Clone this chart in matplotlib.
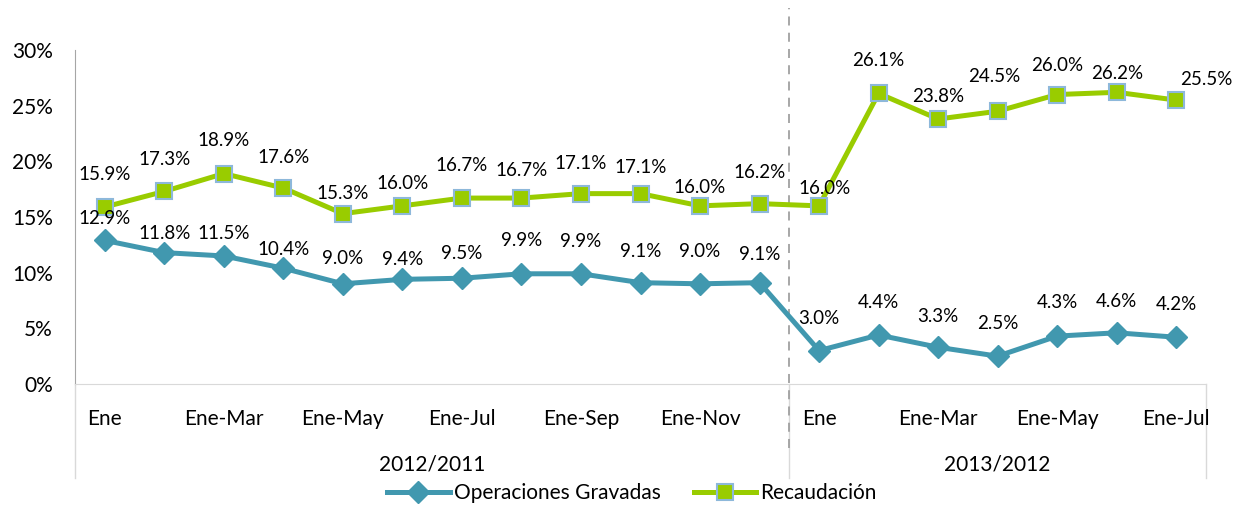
import matplotlib
matplotlib.use("Agg")
import matplotlib.pyplot as plt
from matplotlib.lines import Line2D
from matplotlib.transforms import blended_transform_factory

plt.rcParams["font.family"] = ["Lato", "DejaVu Sans"]

# ---- data -----------------------------------------------------------------
tick_labels = ["Ene", "", "Ene-Mar", "", "Ene-May", "", "Ene-Jul", "",
               "Ene-Sep", "", "Ene-Nov", "",
               "Ene", "", "Ene-Mar", "", "Ene-May", "", "Ene-Jul"]
groups = ["2012/2011", "2013/2012"]
group_sizes = [12, 7]

operaciones = [12.9, 11.8, 11.5, 10.4, 9.0, 9.4, 9.5, 9.9, 9.9, 9.1, 9.0, 9.1,
               3.0, 4.4, 3.3, 2.5, 4.3, 4.6, 4.2]
recaudacion = [15.9, 17.3, 18.9, 17.6, 15.3, 16.0, 16.7, 16.7, 17.1, 17.1,
               16.0, 16.2, 16.0, 26.1, 23.8, 24.5, 26.0, 26.2, 25.5]

# label lift above each point, pixels (as placed in the source chart)
ops_lift = [22, 19, 22, 19, 25, 20, 25, 33, 32, 31, 32, 28,
            32, 33, 31, 33, 34, 31, 33]
rec_lift = [32, 32, 33, 31, 20, 22, 33, 28, 30, 26, 18, 31,
            17, 33, 23, 35, 29, 19, 21]
rec_shift = [0] * 12 + [5, 0, 0, -3, 0, 0, 30]

BLUE = "#4198AF"
GREEN = "#99CC00"
EDGE = "#8DB8DA"
W, H = 1234, 508
FS_LAB = 13.5
FS_AX = 15

fig = plt.figure(figsize=(W / 100, H / 100), dpi=100)
ax = fig.add_axes([75 / W, 1 - 384 / H, (1206 - 75) / W, (384 - 50) / H])

x = list(range(len(operaciones)))
ax.plot(x, operaciones, color=BLUE, lw=3.6, marker="D", ms=11,
        mfc=BLUE, mec=BLUE, label="Operaciones Gravadas", zorder=3)
ax.plot(x, recaudacion, color=GREEN, lw=3.6, marker="s", ms=12,
        mfc=GREEN, mec=EDGE, mew=1.5, label="Recaudación", zorder=3)

for i, v in enumerate(operaciones):
    ax.annotate(f"{v:.1f}%", (i, v), xytext=(0, ops_lift[i]),
                textcoords="offset pixels", ha="center", va="center",
                fontsize=FS_LAB)
for i, v in enumerate(recaudacion):
    ax.annotate(f"{v:.1f}%", (i, v), xytext=(rec_shift[i], rec_lift[i]),
                textcoords="offset pixels", ha="center", va="center",
                fontsize=FS_LAB)

ax.set_xlim(-0.5, len(x) - 0.5)
ax.set_ylim(0, 30)
ax.set_yticks(range(0, 31, 5))
ax.set_yticklabels([f"{t}%" for t in range(0, 31, 5)], fontsize=FS_AX)
ax.tick_params(axis="y", length=0, pad=16)
ax.set_xticks([])
for s in ["top", "right"]:
    ax.spines[s].set_visible(False)
ax.spines["left"].set_color("#A6A6A6")
ax.spines["bottom"].set_color("#D9D9D9")

# two-level category axis
tr = blended_transform_factory(ax.transData, ax.transAxes)
for i, lab in enumerate(tick_labels):
    ax.text(i, -0.105, lab, transform=tr, ha="center", va="center",
            fontsize=FS_AX)
start = -0.5
for g, n in zip(groups, group_sizes):
    ax.text(start + n / 2, -0.240, g, transform=tr, ha="center", va="center",
            fontsize=FS_AX)
    start += n
bounds = [-0.5]
for n in group_sizes:
    bounds.append(bounds[-1] + n)
for b in bounds:
    ax.add_line(Line2D([b, b], [0, -0.281], transform=tr, color="#D9D9D9",
                       lw=1, clip_on=False))

# dashed divider between periods
div = bounds[1]
ax.add_line(Line2D([div, div], [(384 - 448) / 334, (384 - 8) / 334],
                   transform=tr, color="#A0A0A0", lw=1.3, ls=(0, (5, 4)),
                   clip_on=False, zorder=2))

fig.legend(loc="center", bbox_to_anchor=(632 / W, 1 - 493 / H), ncol=2,
           frameon=False, fontsize=FS_AX, handlelength=3.0, columnspacing=1.6,
           handletextpad=0.2)

fig.savefig("out.png", dpi=100)
